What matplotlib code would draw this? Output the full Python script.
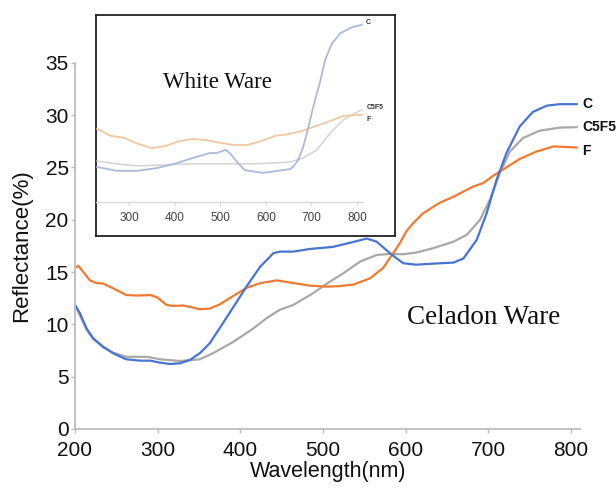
import matplotlib
matplotlib.use("Agg")
import matplotlib.pyplot as plt
from matplotlib.patches import Rectangle

# ---------------- data (Celadon ware, main chart) ----------------
c_nm = [200, 206, 214, 222, 234, 246, 262, 279, 291, 303, 315, 327, 339, 351, 363, 375,
        392, 408, 424, 440, 448, 464, 484, 512, 533, 553, 565, 581, 597, 613, 633, 658,
        670, 686, 698, 710, 722, 738, 754, 771, 787, 807]
c_val = [11.85, 11.06, 9.6, 8.67, 7.87, 7.24, 6.66, 6.53, 6.53, 6.34, 6.21, 6.28, 6.6, 7.24,
         8.19, 9.63, 11.7, 13.67, 15.5, 16.8, 16.95, 16.95, 17.2, 17.4, 17.8, 18.2, 17.9,
         16.8, 15.84, 15.7, 15.8, 15.9, 16.3, 18.07, 20.6, 23.8, 26.36, 28.9, 30.3, 30.9,
         31.04, 31.04]

c5f5_nm = [200, 214, 222, 234, 246, 262, 287, 303, 327, 351, 367, 392, 416, 432, 448, 464,
           488, 505, 525, 545, 565, 581, 597, 613, 633, 658, 674, 690, 702, 714, 726, 742,
           762, 787, 807]
c5f5_val = [11.85, 9.5, 8.6, 7.8, 7.3, 6.9, 6.9, 6.66, 6.5, 6.66, 7.24, 8.35, 9.62, 10.6,
            11.4, 11.85, 12.97, 13.9, 14.9, 16.0, 16.63, 16.73, 16.7, 16.86, 17.27, 17.9,
            18.55, 19.98, 21.9, 24.45, 26.5, 27.8, 28.5, 28.8, 28.84]

f_nm = [200, 204, 210, 218, 226, 234, 246, 262, 275, 291, 299, 311, 319, 331, 343, 351, 363,
        375, 392, 408, 424, 444, 464, 484, 505, 520, 537, 557, 573, 585, 593, 601, 609, 621,
        641, 658, 682, 694, 706, 722, 738, 758, 779, 807]
f_val = [15.4, 15.6, 15.0, 14.2, 13.95, 13.9, 13.45, 12.8, 12.75, 12.8, 12.6, 11.85, 11.76,
         11.8, 11.6, 11.44, 11.5, 11.9, 12.74, 13.5, 13.93, 14.2, 13.95, 13.7, 13.6, 13.65,
         13.8, 14.4, 15.4, 16.8, 17.75, 18.9, 19.66, 20.6, 21.6, 22.2, 23.17, 23.5, 24.2,
         25.0, 25.8, 26.5, 27.0, 26.9]

main_xticks = [200, 300, 400, 500, 600, 700, 800]
main_yticks = [0, 5, 10, 15, 20, 25, 30, 35]

# ---------------- data (White ware, inset, arbitrary scale) ----------------
wc_nm = [230, 274, 318, 361, 405, 440, 478, 493, 511, 521, 537, 554, 594, 625, 653, 660,
         671, 682, 690, 704, 719, 730, 745, 763, 788, 810]
wc_val = [50.0, 48.9, 48.9, 49.7, 51.1, 52.6, 54.0, 54.0, 54.9, 54.0, 51.4, 49.1, 48.3,
          48.9, 49.4, 50.1, 52.0, 55.8, 59.6, 67.2, 74.4, 80.6, 85.3, 88.2, 89.9, 90.6]

wc5f5_nm = [230, 274, 318, 434, 575, 653, 682, 712, 741, 769, 800, 811]
wc5f5_val = [51.7, 50.9, 50.3, 50.9, 50.9, 51.4, 52.6, 54.9, 59.7, 63.4, 65.7, 66.3]

wf_nm = [230, 260, 290, 320, 350, 380, 410, 440, 470, 500, 530, 560, 590, 620, 650, 680,
         710, 740, 770, 800, 811]
wf_val = [60.9, 58.9, 58.3, 56.6, 55.4, 56.0, 57.4, 58.0, 57.7, 56.9, 56.3, 56.3, 57.4,
          58.9, 59.4, 60.3, 61.7, 63.1, 64.6, 64.9, 64.9]

inset_xticks = [300, 400, 500, 600, 700, 800]

# ---------------- style ----------------
blue, orange, gray = "#4A74D2", "#F07A30", "#A9A9A9"
lblue, lorange, lgray = "#AABBDD", "#F2C8A0", "#D4D4D4"
axis_gray = "#BDBDBD"
sans = ["Liberation Sans", "DejaVu Sans"]
serif = ["Liberation Serif", "DejaVu Serif"]
plt.rcParams["font.family"] = sans

W, H = 616, 488
fig = plt.figure(figsize=(W / 100, H / 100), dpi=100)

def fx(px):
    return px / W

def fy(py):
    return 1 - py / H

# main axes: x 75..580 px, y 62.7..429 px
ax = fig.add_axes([fx(75), fy(429), fx(580) - fx(75), fy(62.7) - fy(429)])
ax.set_xlim(200, 811)
ax.set_ylim(0, 35)
for s in ["top", "right"]:
    ax.spines[s].set_visible(False)
for s in ["left", "bottom"]:
    ax.spines[s].set_color(axis_gray)
    ax.spines[s].set_linewidth(1.3)
ax.set_xticks(main_xticks)
ax.set_yticks(main_yticks)
ax.tick_params(axis="both", colors=axis_gray, labelcolor="#111111", length=3, width=1.0,
               labelsize=15)
ax.tick_params(axis="x", pad=6)
ax.tick_params(axis="y", pad=1.5)
ax.patch.set_visible(False)

ax.plot(c5f5_nm, c5f5_val, color=gray, lw=1.6)
ax.plot(f_nm, f_val, color=orange, lw=1.6)
ax.plot(c_nm, c_val, color=blue, lw=1.6)

ax.annotate("C", (c_nm[-1], c_val[-1]), xytext=(4, 0), textcoords="offset points",
            va="center", ha="left", fontsize=10, fontweight="bold", color="#111111")
ax.annotate("C5F5", (c5f5_nm[-1], c5f5_val[-1]), xytext=(4, 0), textcoords="offset points",
            va="center", ha="left", fontsize=10, fontweight="bold", color="#111111")
ax.annotate("F", (f_nm[-1], f_val[-1] - 0.35), xytext=(4, 0), textcoords="offset points",
            va="center", ha="left", fontsize=10, fontweight="bold", color="#111111")

fig.text(fx(22), fy(246), "Reflectance(%)", rotation=90, ha="center", va="center",
         fontsize=16, color="#111111")
fig.text(fx(328), fy(472), "Wavelength(nm)", ha="center", va="center",
         fontsize=15.5, color="#111111")
fig.text(fx(484), fy(318), "Celadon Ware", ha="center", va="center",
         fontsize=19.5, family=serif, color="#111111")

# inset frame box: x 96..395, y 15..236
box = fig.add_axes([fx(96), fy(236), fx(395) - fx(96), fy(15) - fy(236)])
box.set_xticks([])
box.set_yticks([])
box.set_facecolor("white")
for s in box.spines.values():
    s.set_color("#222222")
    s.set_linewidth(1.3)
box.set_zorder(2)

# inset data axes: x 96..363 px (baseline at y=202), top 15
ins = fig.add_axes([fx(96), fy(202), fx(363) - fx(96), fy(15) - fy(202)])
ins.set_zorder(3)
ins.patch.set_visible(False)
ins.set_xlim(227.6, 813)
ins.set_ylim(40, 40 + 187 / 3.5)
for s in ["top", "right", "left"]:
    ins.spines[s].set_visible(False)
ins.spines["bottom"].set_color("#DADADA")
ins.spines["bottom"].set_linewidth(1.0)
ins.set_yticks([])
ins.set_xticks(inset_xticks)
ins.tick_params(axis="x", colors="#DADADA", labelcolor="#444444", length=3, width=0.8,
                labelsize=8.5, pad=4)

ins.plot(wc5f5_nm, wc5f5_val, color=lgray, lw=1.1)
ins.plot(wf_nm, wf_val, color=lorange, lw=1.3)
ins.plot(wc_nm, wc_val, color=lblue, lw=1.3)

ins.annotate("C", (wc_nm[-1], wc_val[-1]), xytext=(3, 1.5), textcoords="offset points",
             va="center", ha="left", fontsize=5, fontweight="bold", color="#333333",
             annotation_clip=False)
ins.annotate("C5F5", (wc5f5_nm[-1], wc5f5_val[-1]), xytext=(3, 1.5), textcoords="offset points",
             va="center", ha="left", fontsize=5, fontweight="bold", color="#333333",
             annotation_clip=False)
ins.annotate("F", (wf_nm[-1], wf_val[-1]), xytext=(3, -3), textcoords="offset points",
             va="center", ha="left", fontsize=5, fontweight="bold", color="#333333",
             annotation_clip=False)

fig.text(fx(217), fy(82), "White Ware", ha="center", va="center", fontsize=16.5,
         family=serif, color="#111111", zorder=5)

fig.savefig("out.png", dpi=100)
